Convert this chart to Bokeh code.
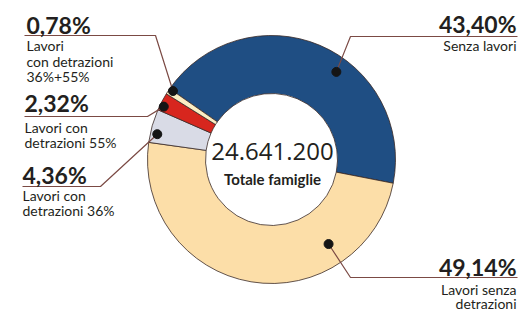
import numpy as np
from bokeh.plotting import figure
from bokeh.models import Range1d, Label
from bokeh.embed import file_html
from bokeh.resources import INLINE

# ---- data ----
categories = ["Senza lavori", "Lavori senza detrazioni", "Lavori con detrazioni 36%",
              "Lavori con detrazioni 55%", "Lavori con detrazioni 36%+55%"]
shares = [43.40, 49.14, 4.36, 2.32, 0.78]
pct_labels = ["43,40%", "49,14%", "4,36%", "2,32%", "0,78%"]
desc_labels = [["Senza lavori"], ["Lavori senza", "detrazioni"], ["Lavori con", "detrazioni 36%"],
               ["Lavori con", "detrazioni 55%"], ["Lavori", "con detrazioni", "36%+55%"]]
total_text = "24.641.200"
total_caption = "Totale famiglie"

# ---- style / layout ----
colors = ["#1f4e83", "#fcdea8", "#d9dbe6", "#d7261e", "#fbeec4"]
W, H = 523, 311
def X(x): return x
def Y(y): return H - y

BIG_OFF, SMALL_OFF = 6, 5   # baseline correction of the svg text

CX, CY = 271, 159
R_OUT, R_IN = 124, 66
START_DEG = 145.2
dot_frac = [0.587, 0.254, 0.29, 0.3, 1.0]
dot_rad = [109, 102, 117, 120, 120]
# label layout: (text x, pct baseline, align, underline y, elbow x, line end x, desc baselines)
lab = [
    (516, 29, "right", 36, 350, 517, [50]),
    (516, 272, "right", 277, 350, 517, [294, 308]),
    (22, 180, "left", 186, 100, 22, [200, 215]),
    (24, 108, "left", 116, 147, 24, [132, 147]),
    (26, 30, "left", 35, 155, 24, [50, 66, 81]),
]

p = figure(width=W, height=H, x_range=Range1d(0, W), y_range=Range1d(0, H),
           output_backend="svg", toolbar_location=None,
           x_axis_location=None, y_axis_location=None, min_border=0)
p.grid.visible = False
p.outline_line_color = None

vals = np.array(shares)
cum = np.concatenate([[0], np.cumsum(vals)[:-1]])
starts = np.radians(START_DEG - cum * 3.6)
ends = np.radians(START_DEG - (cum + vals) * 3.6)

p.annular_wedge(x=X(CX), y=Y(CY), inner_radius=R_IN, outer_radius=R_OUT,
                start_angle=starts, end_angle=ends, direction="clock",
                fill_color=colors, line_color="#3a2a26", line_width=0.8)

lead_color = "#7b4a44"
txt_color = "#231f20"
for i in range(len(shares)):
    a = starts[i] - dot_frac[i] * (starts[i] - ends[i])
    dx = X(CX) + dot_rad[i] * np.cos(a)
    dy = Y(CY) + dot_rad[i] * np.sin(a)
    tx, pb, al, uy, ex, lx, db = lab[i]
    p.line([dx, X(ex), X(lx)], [dy, Y(uy), Y(uy)], line_color=lead_color, line_width=1.2)
    p.scatter([dx], [dy], size=9, color="#151515")
    p.add_layout(Label(x=X(tx), y=Y(pb - BIG_OFF), text=pct_labels[i], text_align=al,
                       text_baseline="alphabetic", text_font="Lato", text_font_style="bold",
                       text_font_size="23px", text_color=txt_color))
    for line_txt, b in zip(desc_labels[i], db):
        p.add_layout(Label(x=X(tx), y=Y(b - SMALL_OFF), text=line_txt, text_align=al,
                           text_baseline="alphabetic", text_font="Lato",
                           text_font_size="14px", text_color=txt_color))

p.add_layout(Label(x=X(272), y=Y(157 - BIG_OFF), text=total_text, text_align="center",
                   text_baseline="alphabetic", text_font="Open Sans",
                   text_font_size="24px", text_color=txt_color))
p.add_layout(Label(x=X(272), y=Y(183 - SMALL_OFF), text=total_caption, text_align="center",
                   text_baseline="alphabetic", text_font="Lato", text_font_style="bold",
                   text_font_size="15px", text_color=txt_color))

open("out.html", "w").write(file_html(p, INLINE))
